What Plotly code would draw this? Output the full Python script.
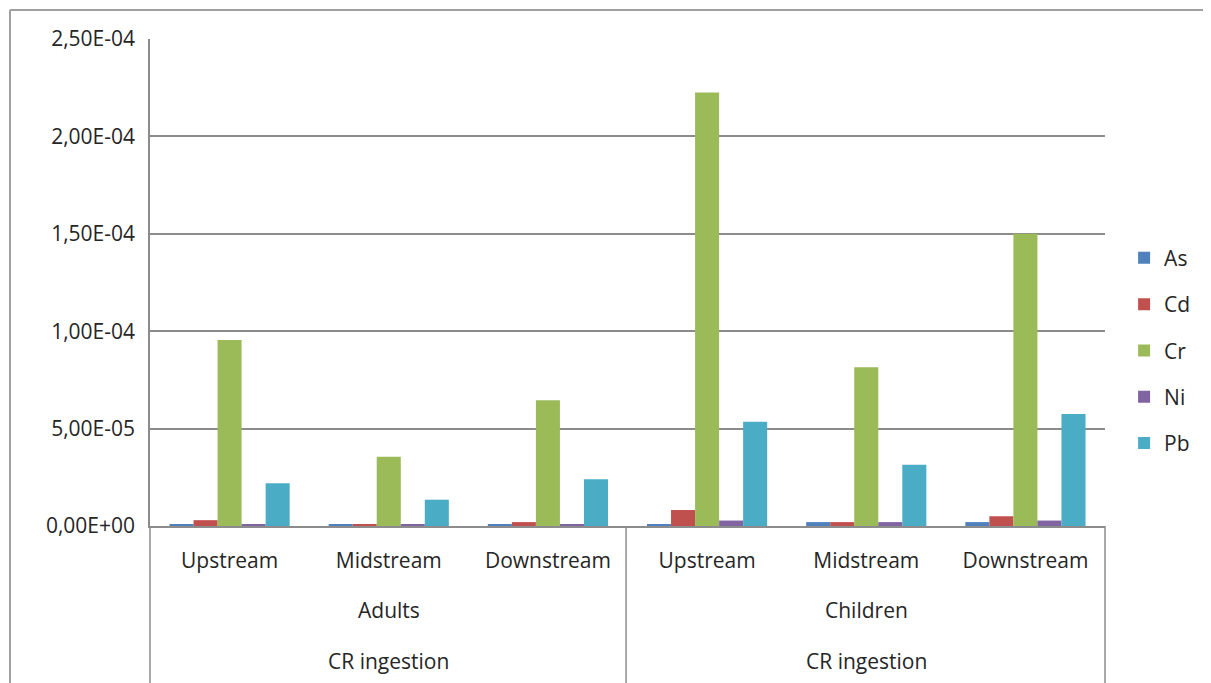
import plotly.graph_objects as go

# ---- data ----
groups = ["Adults", "Adults", "Adults", "Children", "Children", "Children"]
locations = ["Upstream", "Midstream", "Downstream", "Upstream", "Midstream", "Downstream"]
categories = [f"{g} {l}" for g, l in zip(groups, locations)]
pathway = "CR ingestion"

metals = ["As", "Cd", "Cr", "Ni", "Pb"]
as_vals = [1.0e-6, 1.0e-6, 1.0e-6, 1.0e-6, 2.0e-6, 2.0e-6]
cd_vals = [3.0e-6, 1.0e-6, 2.0e-6, 8.2e-6, 2.0e-6, 5.0e-6]
cr_vals = [9.55e-5, 3.55e-5, 6.45e-5, 2.225e-4, 8.15e-5, 1.50e-4]
ni_vals = [1.0e-6, 1.0e-6, 1.0e-6, 2.8e-6, 2.0e-6, 2.8e-6]
pb_vals = [2.2e-5, 1.35e-5, 2.4e-5, 5.35e-5, 3.15e-5, 5.75e-5]
series = [as_vals, cd_vals, cr_vals, ni_vals, pb_vals]

colors = ["#4F81BD", "#C0504D", "#9BBB59", "#8064A2", "#4BACC6"]

ytickvals = [0, 5e-5, 1e-4, 1.5e-4, 2e-4, 2.5e-4]
yticktext = ["0,00E+00", "5,00E-05", "1,00E-04", "1,50E-04", "2,00E-04", "2,50E-04"]

FONT = "Open Sans"
FS = 21
GRID = "#8C8C8C"

fig = go.Figure()
for name, vals, col in zip(metals, series, colors):
    fig.add_trace(go.Bar(
        x=categories, y=vals, name=name, legendgroup=name,
        marker=dict(color=col, line=dict(width=0)),
    ))

fig.update_layout(
    width=1211, height=683,
    margin=dict(l=142, r=114, t=31, b=165),
    paper_bgcolor="white", plot_bgcolor="white",
    barmode="group", bargap=0.245, bargroupgap=0,
    font=dict(family=FONT, size=FS, color="#262626"),
    legend=dict(x=1.02, xanchor="left", y=0.36, yanchor="middle",
                font=dict(family=FONT, size=FS, color="#262626"),
                tracegroupgap=16, itemwidth=30),
    showlegend=True,
)

fig.update_xaxes(
    type="category",
    tickvals=categories, ticktext=locations,
    showgrid=False, showline=True, linecolor=GRID, linewidth=1.5,
    ticks="", ticklabelstandoff=15,
    tickfont=dict(family=FONT, size=FS, color="#262626"),
)
fig.update_yaxes(
    range=[0, 2.5e-4],
    tickvals=ytickvals, ticktext=yticktext,
    showgrid=True, gridcolor=GRID, gridwidth=1.5,
    showline=True, linecolor=GRID, linewidth=1.5,
    ticks="", ticklabelstandoff=9, zeroline=False,
    tickfont=dict(family=FONT, size=FS, color="#262626"),
)

shapes = []
# group dividers below axis
for xp in [0.0, 0.4985, 1.0]:
    shapes.append(dict(type="line", xref="paper", yref="paper",
                       x0=xp, x1=xp, y0=0, y1=-0.35,
                       line=dict(color=GRID, width=1.5)))
# outer chart border (top and left visible)
shapes.append(dict(type="line", xref="paper", yref="paper",
                   x0=-0.1466, x1=1.2, y0=1.0595, y1=1.0595,
                   line=dict(color="#A0A0A0", width=2)))
shapes.append(dict(type="line", xref="paper", yref="paper",
                   x0=-0.1466, x1=-0.1466, y0=1.0595, y1=-0.35,
                   line=dict(color="#A0A0A0", width=2)))
fig.update_layout(shapes=shapes)

annotations = []
for g, idx in [("Adults", 1), ("Children", 4)]:
    annotations.append(dict(x=idx, xref="x", y=-0.172, yref="paper",
                            text=g, showarrow=False, yanchor="middle",
                            font=dict(family=FONT, size=FS, color="#262626")))
    annotations.append(dict(x=idx, xref="x", y=-0.277, yref="paper",
                            text=pathway, showarrow=False, yanchor="middle",
                            font=dict(family=FONT, size=FS, color="#262626")))
fig.update_layout(annotations=annotations)

fig.write_html("out.html")
